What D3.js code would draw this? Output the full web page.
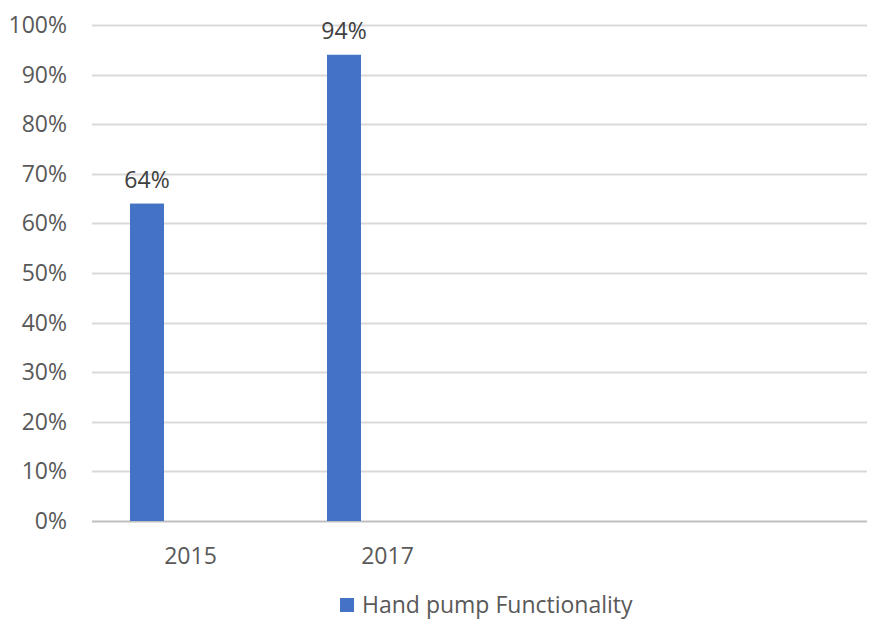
<!DOCTYPE html>
<html>
<head>
    <title>Hand pump Functionality</title>
    <script src="https://d3js.org/d3.v7.min.js"></script>
    <style>
        body { margin: 0; background: #fff; }
        text { font-family: "Open Sans", "Liberation Sans", sans-serif; }
    </style>
</head>
<body>
    <div id="chart"></div>
    <script>
        // categories and values
        var years = ["2015", "2017", "", ""];
        var seriesNames = ["Hand pump Functionality", ""];
        var functionality = [0.64, 0.94];
        var yTicks = [0, 0.1, 0.2, 0.3, 0.4, 0.5, 0.6, 0.7, 0.8, 0.9, 1.0];

        var width = 869, height = 619;
        var margin = {top: 25, right: -11, bottom: 98, left: 92};
        var fontSize = "23px";

        var svg = d3.select("#chart")
            .append("svg")
                .attr("width", width)
                .attr("height", height);

        var x0 = d3.scaleBand()
            .domain(d3.range(years.length))
            .range([margin.left, width - margin.right]);

        var x1 = d3.scaleBand()
            .domain(seriesNames.map(function(d, i) { return i; }))
            .range([38, 106]);

        var y = d3.scaleLinear()
            .domain([0, 1])
            .range([height - margin.bottom, margin.top]);

        // gridlines
        svg.append("g")
            .selectAll("line")
            .data(yTicks)
            .enter()
            .append("line")
                .attr("x1", margin.left)
                .attr("x2", 867)
                .attr("y1", function(d) { return Math.round(y(d)) + 0.5; })
                .attr("y2", function(d) { return Math.round(y(d)) + 0.5; })
                .attr("stroke", function(d) { return d === 0 ? "#bfbfbf" : "#d9d9d9"; })
                .attr("stroke-width", 2);

        // y tick labels
        svg.append("g")
            .selectAll("text")
            .data(yTicks)
            .enter()
            .append("text")
                .attr("x", 67)
                .attr("y", function(d) { return y(d); })
                .attr("dy", "0.35em")
                .attr("text-anchor", "end")
                .attr("fill", "#595959")
                .style("font-size", fontSize)
                .text(d3.format(".0%"));

        // bars
        svg.append("g")
            .selectAll("rect")
            .data(functionality)
            .enter()
            .append("rect")
                .attr("x", function(d, i) { return x0(i) + x1(0); })
                .attr("y", function(d) { return y(d); })
                .attr("width", x1.bandwidth())
                .attr("height", function(d) { return y(0) - y(d); })
                .attr("fill", "#4472C4");

        // data labels
        svg.append("g")
            .selectAll("text")
            .data(functionality)
            .enter()
            .append("text")
                .attr("x", function(d, i) { return x0(i) + x1(0) + x1.bandwidth() / 2; })
                .attr("y", function(d) { return y(d) - 16; })
                .attr("text-anchor", "middle")
                .attr("fill", "#404040")
                .style("font-size", fontSize)
                .text(d3.format(".0%"));

        // category labels
        svg.append("g")
            .selectAll("text")
            .data(years)
            .enter()
            .append("text")
                .attr("x", function(d, i) { return x0(i) + x0.bandwidth() / 2; })
                .attr("y", 564)
                .attr("text-anchor", "middle")
                .attr("fill", "#595959")
                .style("font-size", fontSize)
                .text(function(d) { return d; });

        // legend
        var legend = svg.append("g").attr("transform", "translate(340,598)");
        legend.append("rect")
            .attr("width", 14)
            .attr("height", 14)
            .attr("fill", "#4472C4");
        legend.append("text")
            .attr("x", 22)
            .attr("y", 15)
            .attr("fill", "#595959")
            .style("font-size", fontSize)
            .text(seriesNames[0]);
    </script>
</body>
</html>
